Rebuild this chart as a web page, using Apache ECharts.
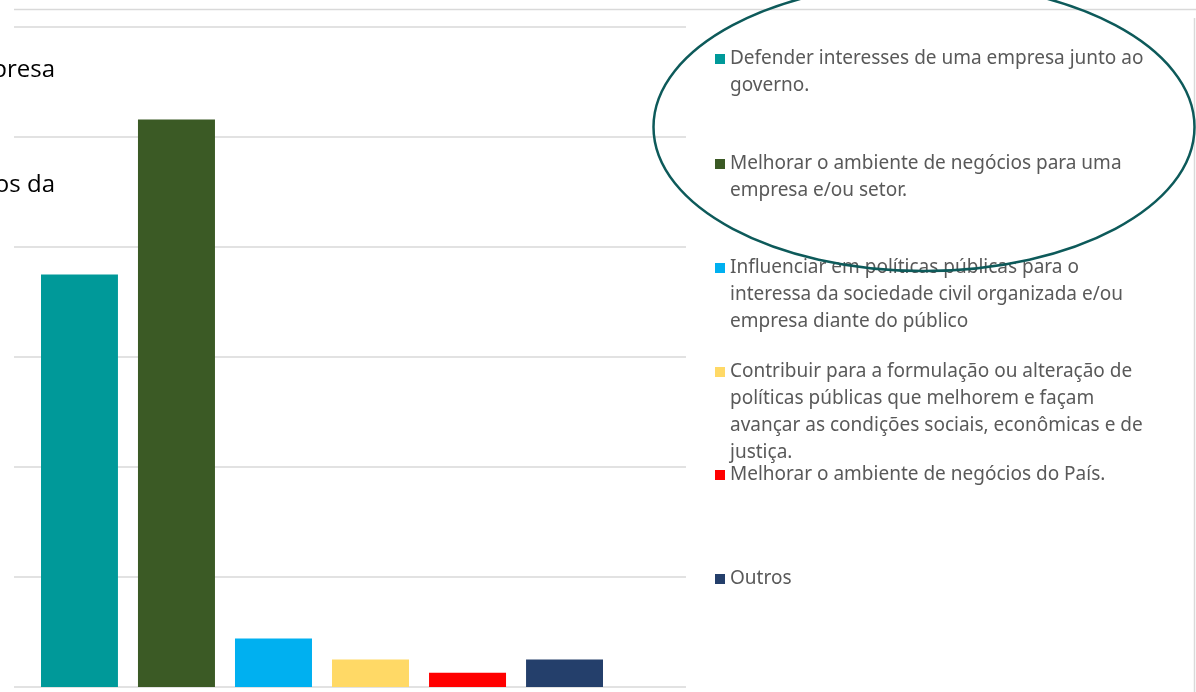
<!DOCTYPE html>
<html>
<head>
<meta charset="utf-8">
<style>
  html, body { margin: 0; padding: 0; background: #fff; }
  #chart { width: 1196px; height: 692px; }
</style>
<script src="https://cdn.jsdelivr.net/npm/echarts@6/dist/echarts.min.js"></script>
</head>
<body>
<div id="chart"></div>
<script>
// motivações (em %)
const seriesNames = [
  'Defender interesses de uma empresa junto ao governo.',
  'Melhorar o ambiente de negócios para uma empresa e/ou setor.',
  'Influenciar em políticas públicas para o interessa da sociedade civil organizada e/ou empresa diante do público',
  'Contribuir para a formulação ou alteração de políticas públicas que melhorem e façam avançar as condições sociais, econômicas e de justiça.',
  'Melhorar o ambiente de negócios do País.',
  'Outros'
];
const seriesValues = [37.5, 51.6, 4.4, 2.5, 1.3, 2.5];
const seriesColors = ['#009999', '#3B5A25', '#00B0F0', '#FFD966', '#FF0000', '#243F6B'];
const category = ['Motivação'];
const titleFragments = ['empresa', 'negócios da'];

const legendCenters = [59, 164, 268, 372, 475, 579];
const LINE_H = 27;

function wrap(text, max) {
  const words = text.split(' ');
  const lines = [];
  let cur = '';
  words.forEach(w => {
    if (!cur) cur = w;
    else if ((cur + ' ' + w).length <= max) cur += ' ' + w;
    else { lines.push(cur); cur = w; }
  });
  if (cur) lines.push(cur);
  return lines;
}

// legend text is centred on its icon, so pad with blank lines above
// to keep the icon on the first line
function legendText(name) {
  const lines = wrap(name, 45);
  const pad = new Array(lines.length - 1).fill(' ');
  return pad.concat(lines).join('\n');
}

const chart = echarts.init(document.getElementById('chart'));

const legends = seriesNames.map((name, i) => {
  const n = wrap(name, 45).length;
  return {
    data: [name],
    left: 715,
    top: legendCenters[i] - (2 * n - 1) * LINE_H / 2,
    padding: 0,
    icon: 'rect',
    itemWidth: 10,
    itemHeight: 10,
    selectedMode: false,
    formatter: legendText,
    textStyle: {
      fontFamily: 'Noto Sans',
      fontSize: 19,
      color: '#595959',
      lineHeight: LINE_H
    }
  };
});

chart.setOption({
  animation: false,
  backgroundColor: '#fff',
  grid: [
    { left: 14, width: 672, top: 27, height: 660 },
    { left: 41, width: 562, top: 27, height: 660 }
  ],
  xAxis: [
    { type: 'category', gridIndex: 0, data: category, show: false },
    { type: 'category', gridIndex: 1, data: category, show: false }
  ],
  yAxis: [
    {
      type: 'value', gridIndex: 0, min: 0, max: 60, interval: 10,
      axisLabel: { show: false }, axisLine: { show: false }, axisTick: { show: false },
      splitLine: { lineStyle: { color: '#D9D9D9', width: 1.5 } }
    },
    {
      type: 'value', gridIndex: 1, min: 0, max: 60, interval: 10,
      show: false, splitLine: { show: false }
    }
  ],
  legend: legends,
  series: seriesNames.map((name, i) => ({
    name: name,
    type: 'bar',
    xAxisIndex: 1,
    yAxisIndex: 1,
    barWidth: 77,
    barGap: '26%',
    data: [seriesValues[i]],
    itemStyle: { color: seriesColors[i] }
  })),
  graphic: [
    {
      type: 'line', silent: true,
      shape: { x1: 14, y1: 9.5, x2: 1196, y2: 9.5 },
      style: { stroke: '#D9D9D9', lineWidth: 1.5 }
    },
    {
      type: 'line', silent: true,
      shape: { x1: 1194.5, y1: 18, x2: 1194.5, y2: 692 },
      style: { stroke: '#D9D9D9', lineWidth: 1.5 }
    },
    {
      type: 'text', silent: true, x: 55, y: 70,
      style: {
        text: titleFragments[0], align: 'right', verticalAlign: 'middle',
        fontFamily: 'Open Sans', fontSize: 24, fill: '#000'
      }
    },
    {
      type: 'text', silent: true, x: 55, y: 185,
      style: {
        text: titleFragments[1], align: 'right', verticalAlign: 'middle',
        fontFamily: 'Open Sans', fontSize: 24, fill: '#000'
      }
    },
    {
      type: 'ellipse', silent: true, z: 100,
      shape: { cx: 924, cy: 127, rx: 270.5, ry: 144 },
      style: { fill: 'none', stroke: '#0D5A5A', lineWidth: 2.5 }
    }
  ]
});
</script>
</body>
</html>
